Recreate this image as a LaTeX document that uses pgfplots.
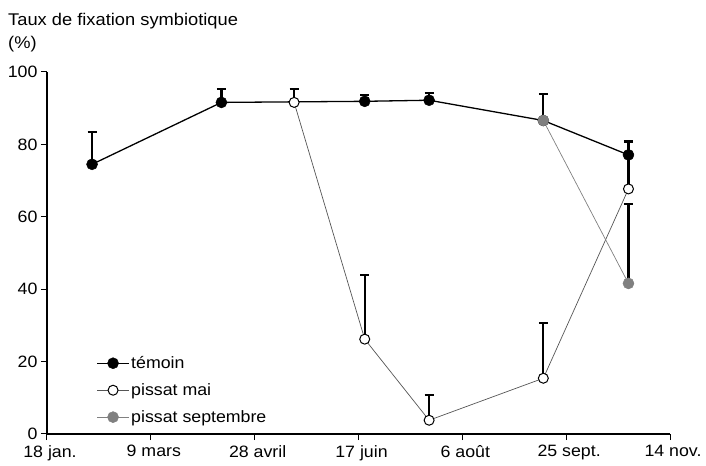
\documentclass[border=0pt]{standalone}
\usepackage{fontspec}
\setmainfont[FakeStretch=1.08]{Liberation Sans}
\usepackage{pgfplots}
\pgfplotsset{compat=1.18}
\definecolor{septgray}{HTML}{808080}
\definecolor{maigray}{HTML}{555555}
\newcommand{\lab}{\fontsize{16.5}{19}\selectfont}
\begin{document}
\begin{tikzpicture}
\path[use as bounding box] (-47bp,-32bp) rectangle (659bp,434bp);
\begin{axis}[
  at={(0,0)}, anchor=south west,
  scale only axis, width=623bp, height=362bp,
  xmin=18, xmax=318, ymin=0, ymax=100,
  axis x line*=bottom, axis y line*=left,
  xtick={18,68,118,168,218,268,318},
  xticklabels={18 jan.,9 mars,28 avril,17 juin,6 août,25 sept.,14 nov.},
  ytick={0,20,40,60,80,100},
  tick align=outside, major tick length=6bp,
  tick style={black, line width=1bp},
  axis line style={black, line width=1.2bp},
  tick label style={font=\lab},
  xticklabel style={yshift=-2bp, xshift=3bp},
  /pgf/number format/assume math mode=true,
  clip=false,
  legend style={at={(0.079,0.219)}, anchor=north west, draw=none, fill=none,
    inner sep=0pt, row sep=10.5bp, font=\lab, nodes={inner sep=1.5bp},
    legend cell align=left},
  every axis plot/.append style={
    legend image code/.code={\draw[mark repeat=2,mark phase=2,#1]
      plot coordinates {(0bp,0bp) (16bp,0bp) (32bp,0bp)};}},
  error bars/error bar style={black, line width=2.3bp},
  error bars/error mark options={rotate=90, black, mark size=4.5bp, line width=2bp},
]
% témoin
\addplot[black, line width=1.3bp, mark=*, mark size=5.5bp,
  mark options={fill=black, draw=black, line width=0.5bp},
  error bars/.cd, y dir=plus, y explicit]
  coordinates {(39.7,74.5) +- (0,9.0) (102,91.6) +- (0,3.8) (171,91.9) +- (0,1.7)
               (202,92.2) +- (0,2.0) (257,86.6) +- (0,7.3) (298,77.1) +- (0,3.7)};
\addlegendentry{témoin}
% pissat mai
\addplot[maigray, line width=0.7bp, mark=*, mark size=5bp,
  mark options={fill=white, draw=black, line width=1bp},
  error bars/.cd, y dir=plus, y explicit]
  coordinates {(137,91.6) +- (0,3.8) (171,26.2) +- (0,17.8) (202,3.8) +- (0,7.0)
               (257,15.4) +- (0,15.2) (298,67.7) +- (0,9.4)};
\addlegendentry{pissat mai}
% pissat septembre
\addplot[septgray, line width=0.7bp, mark=*, mark size=5.5bp,
  mark options={fill=septgray, draw=septgray, line width=0.5bp},
  error bars/.cd, y dir=plus, y explicit]
  coordinates {(257,86.6) +- (0,0) (298,41.6) +- (0,21.9)};
\addlegendentry{pissat septembre}
\end{axis}
\node[anchor=base west, align=left, font=\fontsize{17}{24}\selectfont, inner sep=0pt]
  at (-39bp,385bp) {Taux de fixation symbiotique\\(\%)};
\end{tikzpicture}
\end{document}
